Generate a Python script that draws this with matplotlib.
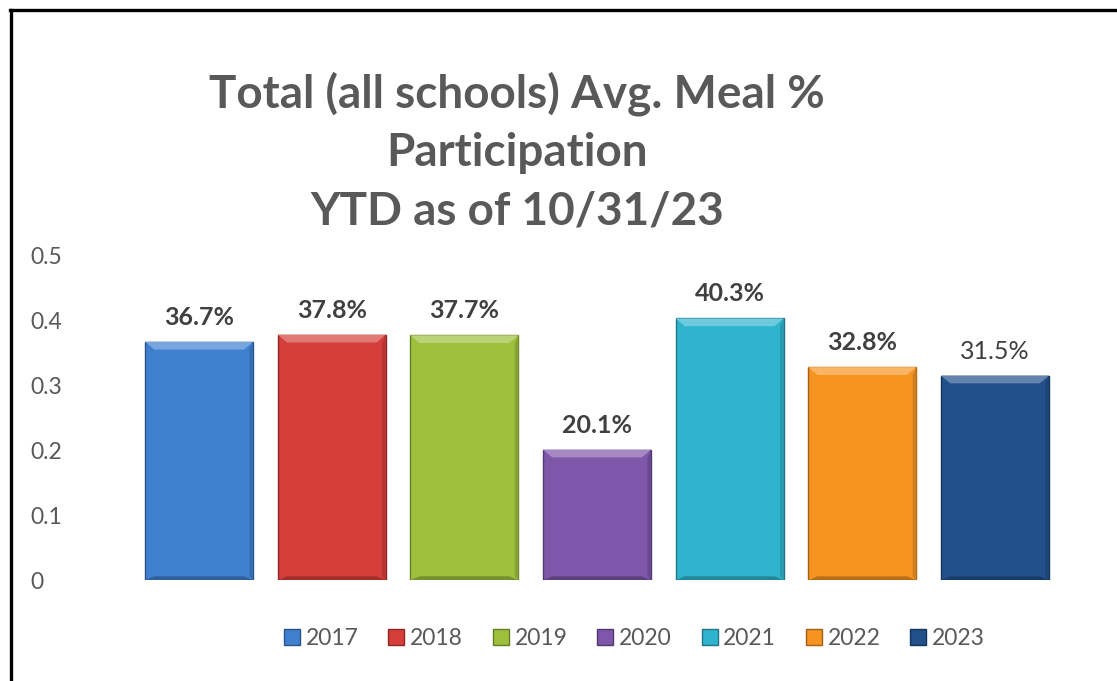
import numpy as np
import matplotlib.pyplot as plt
from matplotlib.patches import Polygon
from matplotlib.lines import Line2D

plt.rcParams['font.family'] = ['Lato', 'DejaVu Sans']

years = ['2017', '2018', '2019', '2020', '2021', '2022', '2023']
participation = [0.367, 0.378, 0.377, 0.201, 0.403, 0.328, 0.315]
labels = ['36.7%', '37.8%', '37.7%', '20.1%', '40.3%', '32.8%', '31.5%']
bold_label = [True, True, True, True, True, True, False]
colors = ['#3F7FD0', '#D63E3B', '#9DC03D', '#7E56AA', '#2FB4CE', '#F69422', '#21508A']
yticks = [0, 0.1, 0.2, 0.3, 0.4, 0.5]
ytick_labels = ['0', '0.1', '0.2', '0.3', '0.4', '0.5']


def shade(c, f):
    rgb = np.array(plt.matplotlib.colors.to_rgb(c))
    if f > 0:
        return tuple(rgb + (1 - rgb) * f)
    return tuple(rgb * (1 + f))


fig = plt.figure(figsize=(11.17, 6.81), dpi=100)
ax = fig.add_axes([0.107, 0.148, 0.855, 0.477])

x = np.arange(len(years))
w = 0.815
bars = ax.bar(x, participation, width=w, color=colors, edgecolor=[shade(c, -0.35) for c in colors],
              linewidth=1.0, zorder=2)

# bevel: lighter top band, darker bottom band
for b, c in zip(bars, colors):
    x0, x1 = b.get_x(), b.get_x() + b.get_width()
    top = b.get_height()
    dx = 0.07
    dy = 0.012
    ax.add_patch(Polygon([(x0, top), (x1, top), (x1 - dx, top - dy), (x0 + dx, top - dy)],
                         closed=True, facecolor=shade(c, 0.3), edgecolor='none', zorder=3))
    ax.add_patch(Polygon([(x0, 0), (x1, 0), (x1 - dx, dy * 0.5), (x0 + dx, dy * 0.5)],
                         closed=True, facecolor=shade(c, -0.25), edgecolor='none', zorder=3))
    ax.add_patch(Polygon([(x1, 0), (x1, top), (x1 - dx * 0.4, top - dy), (x1 - dx * 0.4, dy * 0.5)],
                         closed=True, facecolor=shade(c, -0.15), edgecolor='none', zorder=3))

for xi, v, lab, bl in zip(x, participation, labels, bold_label):
    ax.text(xi, v + 0.02, lab, ha='center', va='bottom', fontsize=18,
            fontweight='bold' if bl else 'normal', color='#404040')

ax.set_xlim(-0.6, 6.6)
ax.set_ylim(0, 0.5)
ax.set_yticks(yticks)
ax.set_yticklabels(ytick_labels)
ax.set_xticks([])
ax.tick_params(axis='y', length=0, pad=64, labelsize=16.5, labelcolor='#595959')
for lab in ax.get_yticklabels():
    lab.set_horizontalalignment('left')
for s in ax.spines.values():
    s.set_visible(False)

fig.text(0.463, 0.777, 'Total (all schools) Avg. Meal %\nParticipation\nYTD as of 10/31/23',
         ha='center', va='center', fontsize=33, fontweight='bold', color='#595959',
         linespacing=1.48)

handles = [plt.Rectangle((0, 0), 1, 1, facecolor=c, edgecolor=shade(c, -0.35)) for c in colors]
fig.legend(handles, years, loc='center', bbox_to_anchor=(0.568, 0.063), ncol=7, frameon=False,
           fontsize=16.5, labelcolor='#595959', handlelength=0.7, handleheight=0.7,
           handletextpad=0.25, columnspacing=1.3)

# frame lines along top and left edge
fig.add_artist(Line2D([10 / 1117, 1], [1 - 9.5 / 681, 1 - 9.5 / 681], color='black', linewidth=2.4))
fig.add_artist(Line2D([11 / 1117, 11 / 1117], [0, 1 - 9.5 / 681], color='black', linewidth=2.4))

fig.savefig('out.png', dpi=100, facecolor='white')
